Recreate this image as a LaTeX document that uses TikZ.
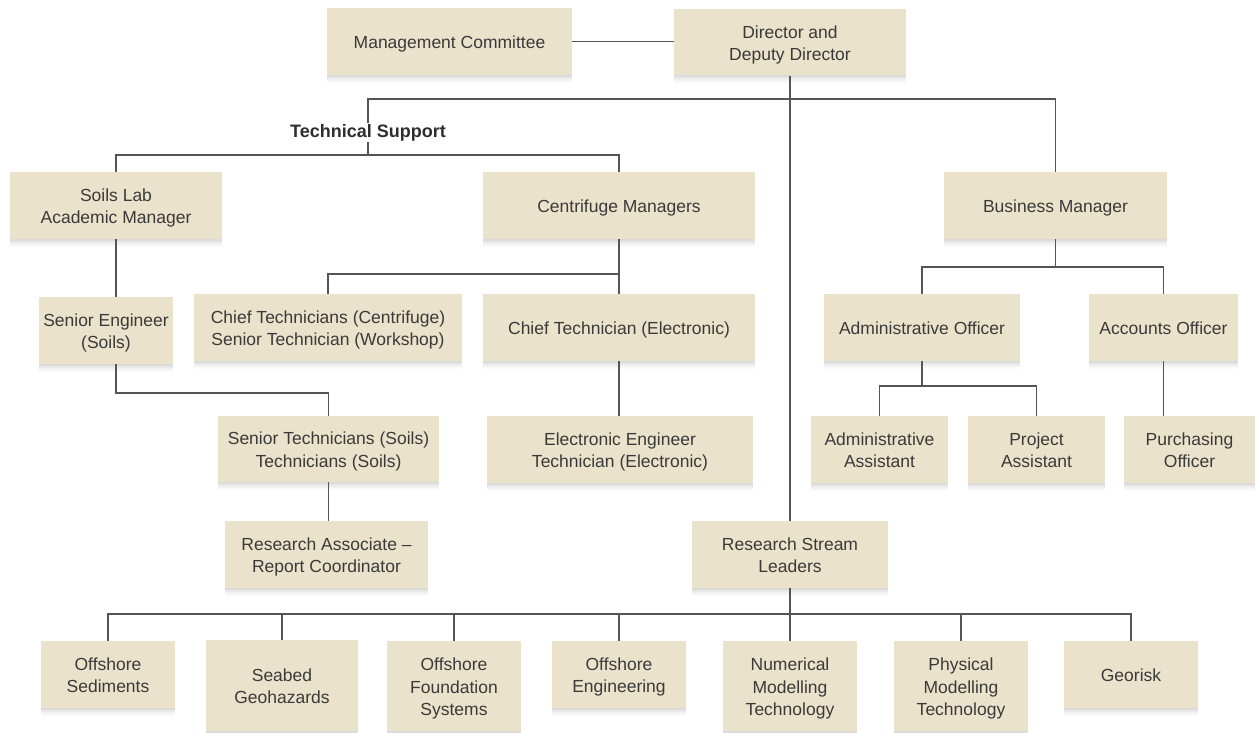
\documentclass[tikz,border=0pt]{standalone}
\usepackage{fontspec}
\setmainfont{Liberation Sans}
\definecolor{boxfill}{RGB}{235,226,203}
\definecolor{txt}{RGB}{58,58,58}
\definecolor{ln}{RGB}{85,85,85}
\newcommand\boxtxt[1]{\begin{tabular}{@{}c@{}}\rule{0pt}{20.75pt}#1\end{tabular}}
\tikzset{
  shadowed/.style={
    preaction={fill=black, fill opacity=0.05, transform canvas={yshift=-2pt}},
    preaction={fill=black, fill opacity=0.04, transform canvas={yshift=-4pt}},
    preaction={fill=black, fill opacity=0.03, transform canvas={yshift=-6pt}},
    preaction={fill=black, fill opacity=0.02, transform canvas={yshift=-8pt}}},
  box/.style={shadowed, fill=boxfill, draw=none, text=txt, inner sep=0pt,
    font=\fontsize{17.5}{22.5}\selectfont},
  conn/.style={draw=ln, line width=1.2pt},
  lbl/.style={text=txt!80!black, font=\fontsize{18}{22}\selectfont\bfseries, inner sep=1pt}
}
\begin{document}
\begin{tikzpicture}[x=1pt,y=-1pt]
\fill[white] (0,0) rectangle (1255,733);
\useasboundingbox (0,0) rectangle (1255,733);
% top
\node[box, minimum width=245pt, minimum height=67pt] (mc) at (449.5,41.5) {\boxtxt{Management Committee}};
\node[box, minimum width=232pt, minimum height=66pt] (dir) at (790,42.5) {\boxtxt{Director and\\Deputy Director}};
\node[lbl] (ts) at (368,132.5) {Technical Support};
% second row
\node[box, minimum width=212pt, minimum height=67pt] (sl) at (116,205.5) {\boxtxt{Soils Lab\\Academic Manager}};
\node[box, minimum width=272pt, minimum height=67pt] (cm) at (619,205.5) {\boxtxt{Centrifuge Managers}};
\node[box, minimum width=223pt, minimum height=67pt] (bm) at (1055.5,205.5) {\boxtxt{Business Manager}};
% third row
\node[box, minimum width=134pt, minimum height=67pt] (se) at (106,330.5) {\boxtxt{Senior Engineer\\(Soils)}};
\node[box, minimum width=268pt, minimum height=67pt] (ct) at (328,327.5) {\boxtxt{Chief Technicians (Centrifuge)\\Senior Technician (Workshop)}};
\node[box, minimum width=272pt, minimum height=67pt] (ce) at (619,327.5) {\boxtxt{Chief Technician (Electronic)}};
\node[box, minimum width=196pt, minimum height=67pt] (ao) at (922,327.5) {\boxtxt{Administrative Officer}};
\node[box, minimum width=149pt, minimum height=67pt] (aco) at (1163.5,327.5) {\boxtxt{Accounts Officer}};
% fourth row
\node[box, minimum width=221pt, minimum height=66pt] (st) at (328.5,449) {\boxtxt{Senior Technicians (Soils)\\Technicians (Soils)}};
\node[box, minimum width=266pt, minimum height=67pt] (ee) at (620,449.5) {\boxtxt{Electronic Engineer\\Technician (Electronic)}};
\node[box, minimum width=137pt, minimum height=67pt] (aa) at (879.5,449.5) {\boxtxt{Administrative\\Assistant}};
\node[box, minimum width=137pt, minimum height=67pt] (pa) at (1036.5,449.5) {\boxtxt{Project\\Assistant}};
\node[box, minimum width=131pt, minimum height=67pt] (po) at (1189.5,449.5) {\boxtxt{Purchasing\\Officer}};
% fifth row
\node[box, minimum width=203pt, minimum height=67pt] (ra) at (326.5,554.5) {\boxtxt{Research Associate --\\Report Coordinator}};
\node[box, minimum width=196pt, minimum height=67pt] (rs) at (790,554.5) {\boxtxt{Research Stream\\Leaders}};
% bottom row
\node[box, minimum width=134pt, minimum height=67pt] (os) at (108,674.5) {\boxtxt{Offshore\\Sediments}};
\node[box, minimum width=152pt, minimum height=91pt] (sg) at (282,685.5) {\boxtxt{Seabed\\Geohazards}};
\node[box, minimum width=134pt, minimum height=90pt] (ofs) at (454,686) {\boxtxt{Offshore\\Foundation\\Systems}};
\node[box, minimum width=134pt, minimum height=67pt] (oe) at (619,674.5) {\boxtxt{Offshore\\Engineering}};
\node[box, minimum width=134pt, minimum height=90pt] (nmt) at (790,686) {\boxtxt{Numerical\\Modelling\\Technology}};
\node[box, minimum width=134pt, minimum height=90pt] (pmt) at (961,686) {\boxtxt{Physical\\Modelling\\Technology}};
\node[box, minimum width=134pt, minimum height=67pt] (geo) at (1131,674.5) {\boxtxt{Georisk}};
% junction coordinates
\coordinate (topj) at (368,99);
\coordinate (tsj) at (368,155);
\coordinate (cmj) at (619,274);
\coordinate (bmj) at (1055.5,267);
\coordinate (sej) at (116,393);
\coordinate (aoj) at (922,386);
\coordinate (rsj) at (790,614);
% connectors
\draw[conn] (mc.east) -- (mc.east -| dir.west);
\draw[conn] (dir.south) -- (rs.north);
\draw[conn] (ts.north) -- (topj) -| (bm.north);
\draw[conn] (ts.south) -- (tsj);
\draw[conn] (sl.north) |- (tsj) -| (cm.north);
\draw[conn] (sl.south) -- (sl.south |- se.north);
\draw[conn] (se.south -| sl.south) -- (sej) -| (st.north);
\draw[conn] (st.south) -- (st.south |- ra.north);
\draw[conn] (cm.south) -- (ce.north);
\draw[conn] (ct.north) |- (cmj);
\draw[conn] (ce.south) -- (ce.south |- ee.north);
\draw[conn] (bm.south) -- (bmj);
\draw[conn] (ao.north) |- (bmj) -| (aco.north);
\draw[conn] (ao.south) -- (aoj);
\draw[conn] (aa.north) |- (aoj) -| (pa.north);
\draw[conn] (aco.south) -- (aco.south |- po.north);
\draw[conn] (rs.south) -- (rsj);
\draw[conn] (os.north) |- (rsj) -| (geo.north);
\draw[conn] (sg.north) -- (sg.north |- rsj);
\draw[conn] (ofs.north) -- (ofs.north |- rsj);
\draw[conn] (oe.north) -- (oe.north |- rsj);
\draw[conn] (nmt.north) -- (nmt.north |- rsj);
\draw[conn] (pmt.north) -- (pmt.north |- rsj);
\end{tikzpicture}
\end{document}
